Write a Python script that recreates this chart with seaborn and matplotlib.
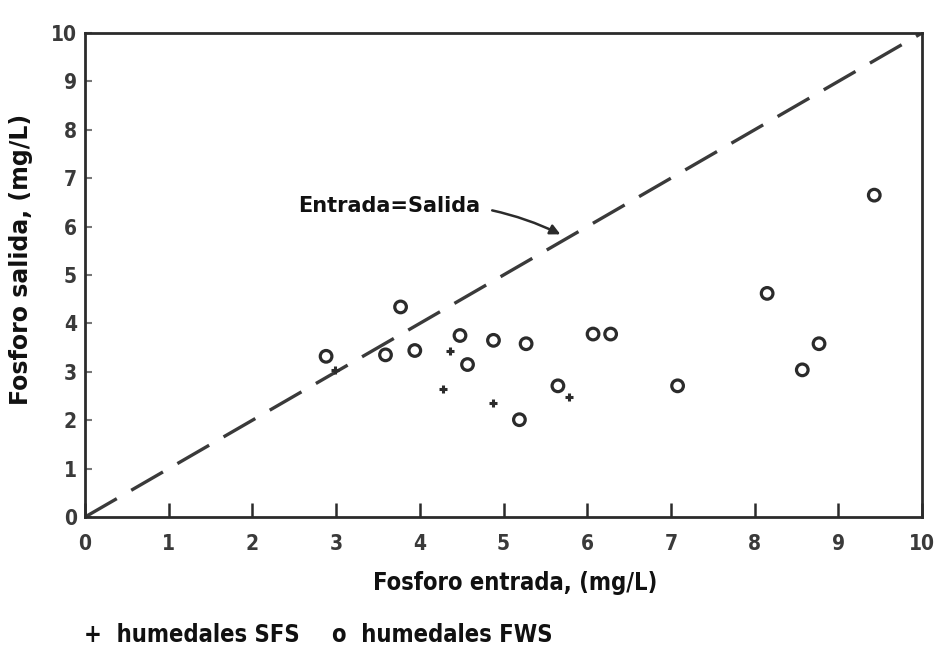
import matplotlib
matplotlib.use("Agg")
import matplotlib.pyplot as plt
import seaborn as sns
import pandas as pd

# ---- data ----
fws_in = [2.88, 3.77, 3.59, 3.94, 4.48, 4.57, 4.88, 5.27, 5.19, 5.65, 6.07, 6.28, 7.08, 8.15, 8.57, 8.77, 9.43]
fws_out = [3.32, 4.34, 3.35, 3.44, 3.75, 3.15, 3.65, 3.58, 2.01, 2.71, 3.78, 3.78, 2.71, 4.62, 3.04, 3.58, 6.65]
sfs_in = [2.99, 4.36, 4.28, 4.88, 5.78]
sfs_out = [3.03, 3.44, 2.64, 2.35, 2.48]
line_x = [0, 10]
line_y = [0, 10]
ticks = list(range(0, 11))
tick_labels = [str(t) for t in ticks]

x_label = "Fosforo entrada, (mg/L)"
y_label = "Fosforo salida, (mg/L)"
note_text = "Entrada=Salida"
legend_sfs = "+  humedales SFS"
legend_fws = "o  humedales FWS"

sns.set_style("white")
plt.rcParams['font.family'] = ['DejaVu Sans']

ink = "#2b2b2b"
fig = plt.figure(figsize=(9.46, 6.46), dpi=100)
ax = fig.add_axes([0.0899, 0.1997, 0.8847, 0.7492])

fws = pd.DataFrame({"entrada": fws_in, "salida": fws_out})
sfs = pd.DataFrame({"entrada": sfs_in, "salida": sfs_out})

sns.lineplot(x=line_x, y=line_y, ax=ax, color="#3a3a3a", linewidth=2.4,
             dashes=False, linestyle=(0, (11, 5)))
sns.scatterplot(data=fws, x="entrada", y="salida", ax=ax, marker="o",
                s=70, facecolor="none", edgecolor=ink, linewidth=2.3, zorder=3)
sns.scatterplot(data=sfs, x="entrada", y="salida", ax=ax, marker="+",
                s=40, color=ink, linewidth=2.2, zorder=3)

ax.set_xlim(0, 10)
ax.set_ylim(0, 10)
ax.set_xticks(ticks)
ax.set_xticklabels(tick_labels)
ax.set_yticks(ticks)
ax.set_yticklabels(tick_labels)
ax.tick_params(axis='x', bottom=True, direction='in', length=10, width=1.8,
               color=ink, labelsize=15, labelcolor="#3a3a3a", pad=12)
ax.tick_params(axis='y', left=True, direction='in', length=5, width=1.5,
               color="#777777", labelsize=15, labelcolor="#3a3a3a", pad=6)
for lab in ax.get_xticklabels() + ax.get_yticklabels():
    lab.set_fontweight('bold')
    lab.set_fontstretch('condensed')

for sp in ax.spines.values():
    sp.set_visible(True)
    sp.set_color(ink)
    sp.set_linewidth(2.0)

ax.set_xlabel(x_label, fontsize=17, fontweight='bold', fontstretch='condensed',
              color="#111111")
ax.xaxis.set_label_coords(0.514, -0.112)
ax.set_ylabel(y_label, fontsize=17, fontweight='bold', color="#111111")
ax.yaxis.set_label_coords(-0.062, 0.533)

ax.annotate(note_text, xy=(5.68, 5.84), xytext=(3.64, 6.42),
            fontsize=15, fontweight='bold', color="#111111",
            ha='center', va='center',
            arrowprops=dict(arrowstyle='-|>', color=ink, lw=1.8,
                            shrinkA=6, shrinkB=0,
                            connectionstyle="arc3,rad=-0.15"))

fig.text(0.089, 0.017, legend_sfs, fontsize=17, fontweight='bold',
         fontstretch='condensed', color="#111111", ha='left', va='center')
fig.text(0.351, 0.017, legend_fws, fontsize=17, fontweight='bold',
         fontstretch='condensed', color="#111111", ha='left', va='center')

fig.savefig("out.png", dpi=100, facecolor="white")
